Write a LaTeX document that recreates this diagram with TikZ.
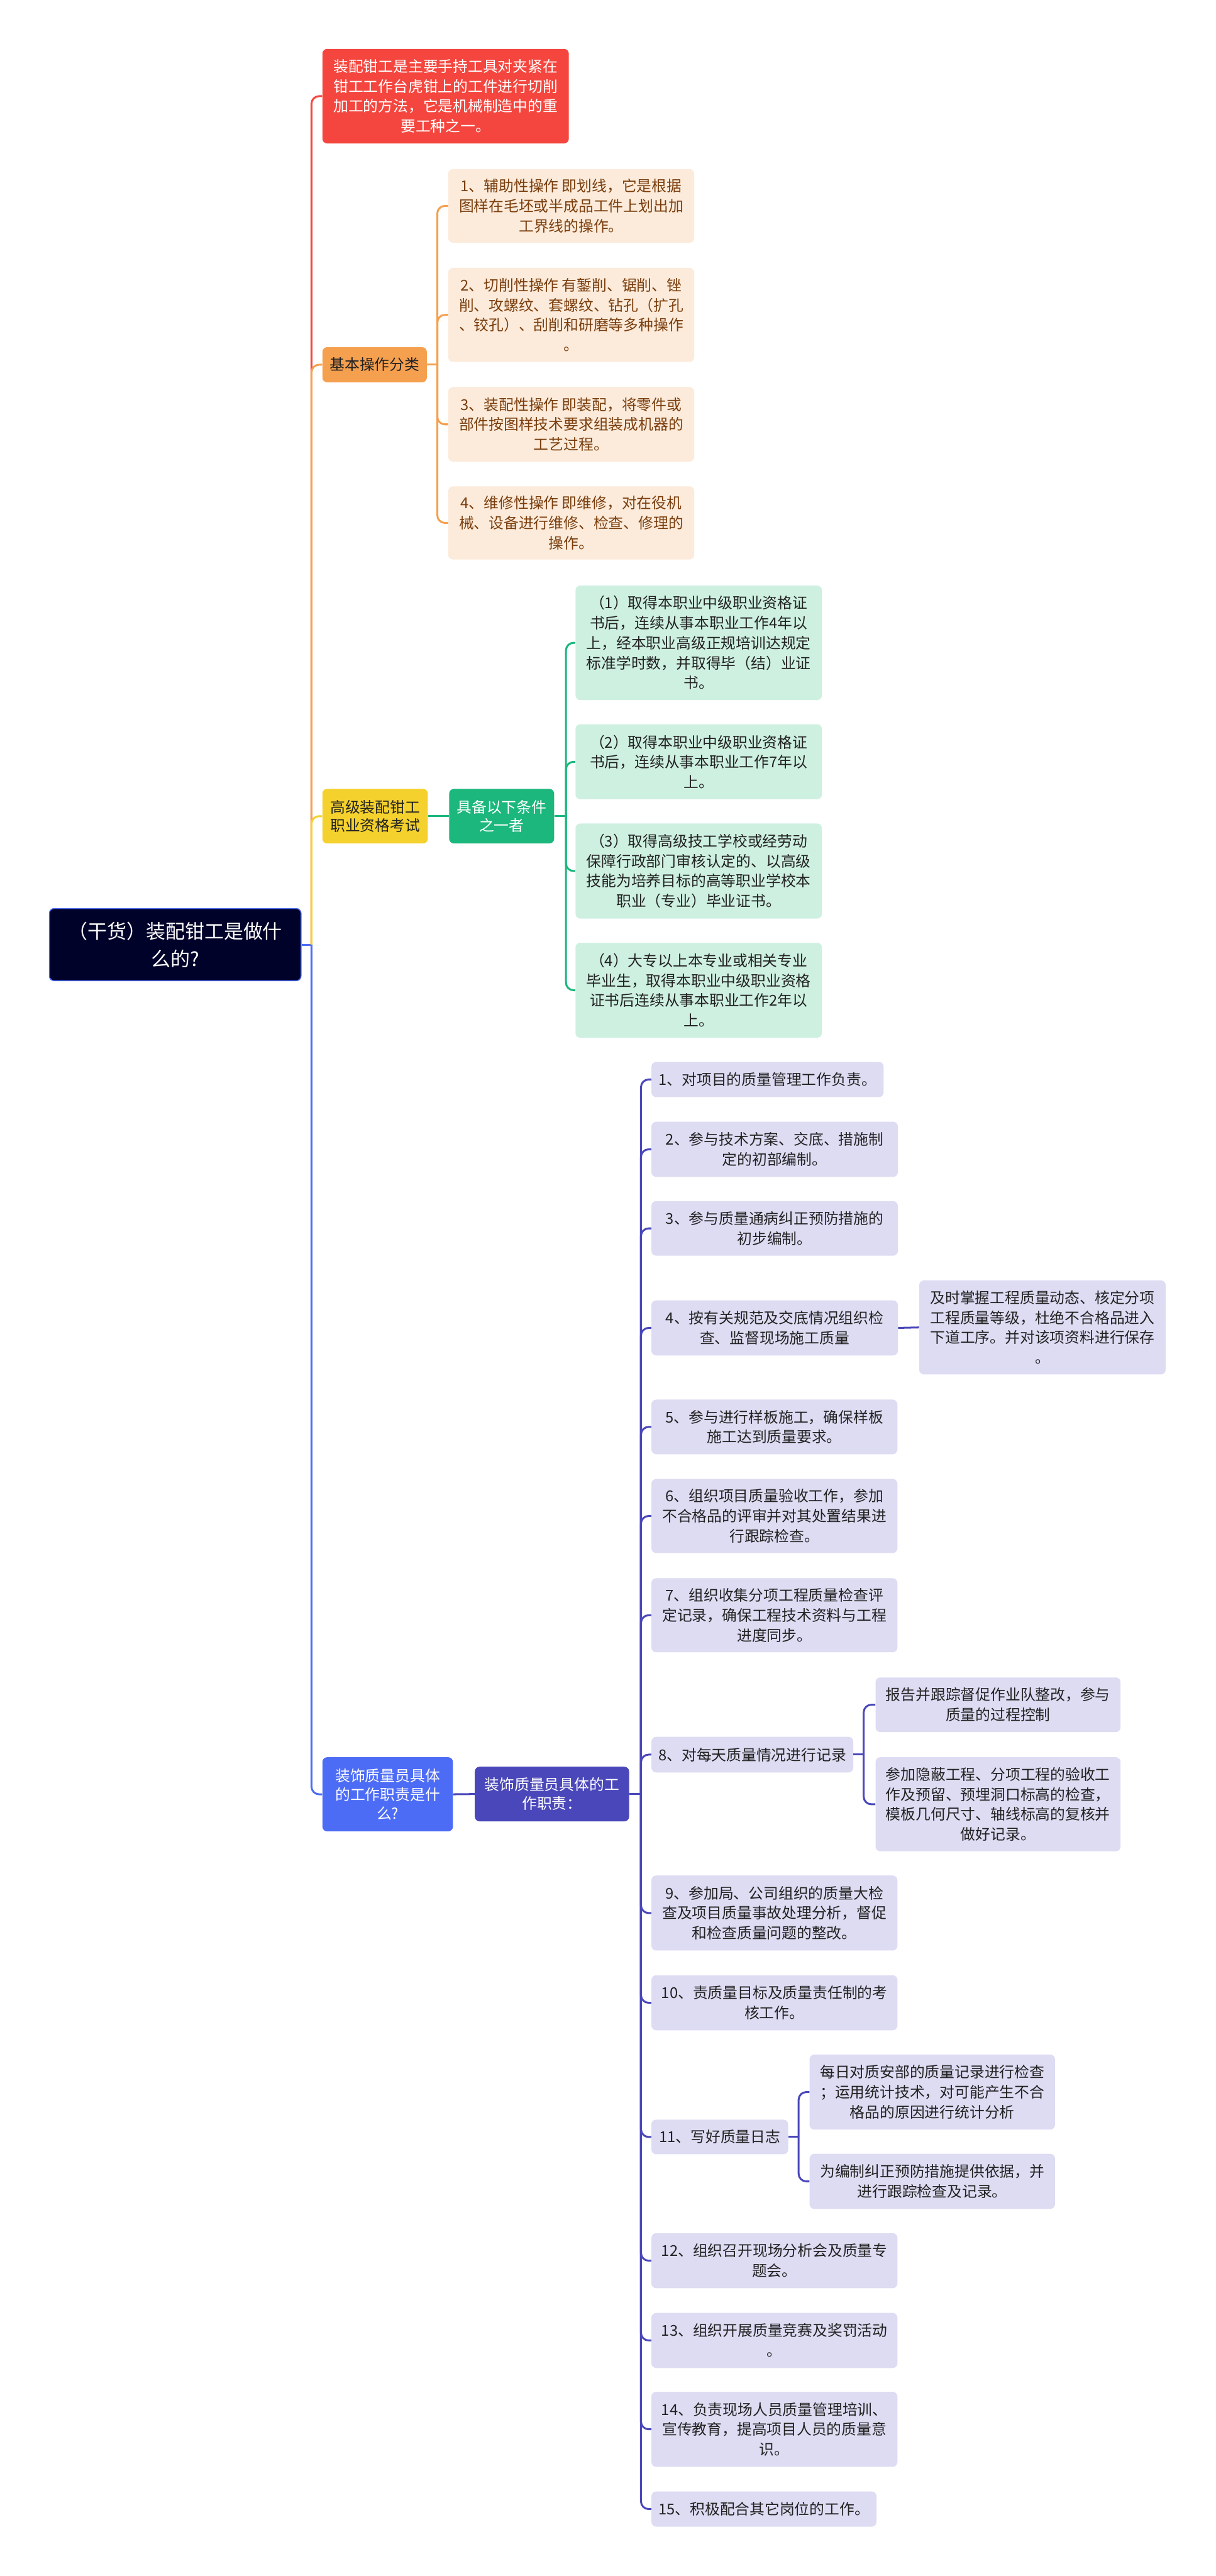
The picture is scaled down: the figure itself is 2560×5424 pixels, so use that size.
\documentclass[tikz,border=0pt]{standalone}
\usepackage{fontspec}
\setmainfont{Noto Sans CJK SC}
\definecolor{cRed}{HTML}{F4463E}
\definecolor{cOrange}{HTML}{F5A04F}
\definecolor{cPeach}{HTML}{FCEBDA}
\definecolor{cPeachTxt}{HTML}{7A3E0E}
\definecolor{cYellow}{HTML}{F4D12C}
\definecolor{cGreen}{HTML}{1BB77D}
\definecolor{cLGreen}{HTML}{CEF0E1}
\definecolor{cBlue}{HTML}{4D6CF5}
\definecolor{cIndigo}{HTML}{4A47BA}
\definecolor{cLav}{HTML}{DDDCF3}
\definecolor{cRoot}{HTML}{00022A}
\definecolor{cDark}{HTML}{222222}
\tikzset{
  bx/.style={rounded corners=5pt, inner sep=0pt, align=center, font=\fontsize{15.75pt}{21pt}\selectfont},
  rootbox/.style={bx, fill=cRoot, draw=cBlue, line width=1pt, text=white, font=\fontsize{20.5pt}{29pt}\selectfont},
  redbox/.style={bx, fill=cRed, text=white},
  orgbox/.style={bx, fill=cOrange, text=cDark},
  peach/.style={bx, fill=cPeach, text=cPeachTxt},
  yelbox/.style={bx, fill=cYellow, text=cDark, font=\fontsize{15.75pt}{19pt}\selectfont},
  grnbox/.style={bx, fill=cGreen, text=white, font=\fontsize{15.75pt}{19pt}\selectfont},
  lgreen/.style={bx, fill=cLGreen, text=cDark},
  bluebox/.style={bx, fill=cBlue, text=white, font=\fontsize{15.75pt}{20pt}\selectfont},
  indbox/.style={bx, fill=cIndigo, text=white, font=\fontsize{15.75pt}{20pt}\selectfont},
  lav/.style={bx, fill=cLav, text=cDark},
  ln/.style={line width=2pt},
  rc/.style={rounded corners=8pt},
}
\newcommand\mybox[7]{\node[#6, minimum width={(#4-#2)*0.5pt}, minimum height={(#5-#3)*0.5pt}] (#1) at ({(#2+#4)/2},{(#3+#5)/2}) {#7};}
\begin{document}
\begin{tikzpicture}[x=0.5pt,y=-0.5pt]
\useasboundingbox[fill=white] (0,0) rectangle (2560,5424);
% nodes
\mybox{root}{104}{1913}{634}{2065}{rootbox}{（干货）装配钳工是做什\\么的?}
\mybox{red}{679}{103}{1198}{302}{redbox}{装配钳工是主要手持工具对夹紧在\\钳工工作台虎钳上的工件进行切削\\加工的方法，它是机械制造中的重\\要工种之一。}
\mybox{basic}{679}{731}{899}{805}{orgbox}{基本操作分类}
\mybox{o1}{944}{356}{1462}{511}{peach}{1、辅助性操作 即划线，它是根据\\图样在毛坯或半成品工件上划出加\\工界线的操作。}
\mybox{o2}{944}{564}{1462}{762}{peach}{2、切削性操作 有錾削、锯削、锉\\削、攻螺纹、套螺纹、钻孔（扩孔\\、铰孔）、刮削和研磨等多种操作\\。}
\mybox{o3}{944}{815}{1462}{972}{peach}{3、装配性操作 即装配，将零件或\\部件按图样技术要求组装成机器的\\工艺过程。}
\mybox{o4}{944}{1024}{1462}{1178}{peach}{4、维修性操作 即维修，对在役机\\械、设备进行维修、检查、修理的\\操作。}
\mybox{adv}{679}{1661}{901}{1776}{yelbox}{高级装配钳工\\职业资格考试}
\mybox{cond}{946}{1661}{1167}{1776}{grnbox}{具备以下条件\\之一者}
\mybox{g1}{1212}{1233}{1731}{1474}{lgreen}{（1）取得本职业中级职业资格证\\书后，连续从事本职业工作4年以\\上，经本职业高级正规培训达规定\\标准学时数，并取得毕（结）业证\\书。}
\mybox{g2}{1212}{1525}{1731}{1683}{lgreen}{（2）取得本职业中级职业资格证\\书后，连续从事本职业工作7年以\\上。}
\mybox{g3}{1212}{1734}{1731}{1934}{lgreen}{（3）取得高级技工学校或经劳动\\保障行政部门审核认定的、以高级\\技能为培养目标的高等职业学校本\\职业（专业）毕业证书。}
\mybox{g4}{1212}{1985}{1731}{2185}{lgreen}{（4）大专以上本专业或相关专业\\毕业生，取得本职业中级职业资格\\证书后连续从事本职业工作2年以\\上。}
\mybox{deco}{679}{3700}{954}{3856}{bluebox}{装饰质量员具体\\的工作职责是什\\么?}
\mybox{duty}{1000}{3720}{1325}{3835}{indbox}{装饰质量员具体的工\\作职责：}
\mybox{t1}{1372}{2236}{1861}{2310}{lav}{1、对项目的质量管理工作负责。}
\mybox{t2}{1372}{2362}{1891}{2478}{lav}{2、参与技术方案、交底、措施制\\定的初部编制。}
\mybox{t3}{1372}{2529}{1891}{2644}{lav}{3、参与质量通病纠正预防措施的\\初步编制。}
\mybox{t4}{1372}{2738}{1891}{2854}{lav}{4、按有关规范及交底情况组织检\\查、监督现场施工质量}
\mybox{t4a}{1936}{2696}{2455}{2894}{lav}{及时掌握工程质量动态、核定分项\\工程质量等级，杜绝不合格品进入\\下道工序。并对该项资料进行保存\\。}
\mybox{t5}{1372}{2947}{1890}{3062}{lav}{5、参与进行样板施工，确保样板\\施工达到质量要求。}
\mybox{t6}{1372}{3114}{1890}{3270}{lav}{6、组织项目质量验收工作，参加\\不合格品的评审并对其处置结果进\\行跟踪检查。}
\mybox{t7}{1372}{3323}{1890}{3479}{lav}{7、组织收集分项工程质量检查评\\定记录，确保工程技术资料与工程\\进度同步。}
\mybox{t8}{1372}{3657}{1797}{3732}{lav}{8、对每天质量情况进行记录}
\mybox{t8a}{1844}{3532}{2360}{3647}{lav}{报告并跟踪督促作业队整改，参与\\质量的过程控制}
\mybox{t8b}{1844}{3700}{2360}{3898}{lav}{参加隐蔽工程、分项工程的验收工\\作及预留、预埋洞口标高的检查，\\模板几何尺寸、轴线标高的复核并\\做好记录。}
\mybox{t9}{1372}{3949}{1890}{4107}{lav}{9、参加局、公司组织的质量大检\\查及项目质量事故处理分析，督促\\和检查质量问题的整改。}
\mybox{t10}{1372}{4159}{1890}{4275}{lav}{10、责质量目标及质量责任制的考\\核工作。}
\mybox{t11}{1372}{4463}{1660}{4536}{lav}{11、写好质量日志}
\mybox{t11a}{1705}{4326}{2222}{4484}{lav}{每日对质安部的质量记录进行检查\\；运用统计技术，对可能产生不合\\格品的原因进行统计分析}
\mybox{t11b}{1705}{4535}{2222}{4651}{lav}{为编制纠正预防措施提供依据，并\\进行跟踪检查及记录。}
\mybox{t12}{1372}{4702}{1890}{4818}{lav}{12、组织召开现场分析会及质量专\\题会。}
\mybox{t13}{1372}{4870}{1890}{4986}{lav}{13、组织开展质量竞赛及奖罚活动\\。}
\mybox{t14}{1372}{5036}{1890}{5194}{lav}{14、负责现场人员质量管理培训、\\宣传教育，提高项目人员的质量意\\识。}
\mybox{t15}{1372}{5246}{1846}{5320}{lav}{15、积极配合其它岗位的工作。}
% junctions
\coordinate (j0) at (656,1989);
\coordinate (j1) at (921,768);
\coordinate (j2) at (1192,1718.5);
\coordinate (j3) at (1350,3777.5);
\coordinate (j4) at (1819,3694.5);
\coordinate (j5) at (1682,4499.5);
% main branches
\draw[ln,cBlue] (root.east) -- (j0);
\draw[ln,cRed,rc] (j0) |- (red.west);
\draw[ln,cOrange,rc] (j0) |- (basic.west);
\draw[ln,cYellow,rc] (j0) |- (adv.west);
\draw[ln,cBlue,rc] (j0) |- (deco.west);
% orange
\draw[ln,cOrange] (basic.east) -- (j1);
\foreach \n in {o1,o2,o3,o4} \draw[ln,cOrange,rc] (j1) |- (\n.west);
% green
\draw[ln,cGreen] (adv.east) -- (cond.west);
\draw[ln,cGreen] (cond.east) -- (j2);
\foreach \n in {g1,g2,g3,g4} \draw[ln,cGreen,rc] (j2) |- (\n.west);
% indigo
\draw[ln,cIndigo] (deco.east) -- (duty.west);
\draw[ln,cIndigo] (duty.east) -- (j3);
\foreach \n in {t1,t2,t3,t4,t5,t6,t7,t8,t9,t10,t11,t12,t13,t14,t15} \draw[ln,cIndigo,rc] (j3) |- (\n.west);
\draw[ln,cIndigo] (t4.east) -- (t4a.west);
\draw[ln,cIndigo] (t8.east) -- (j4);
\foreach \n in {t8a,t8b} \draw[ln,cIndigo,rc] (j4) |- (\n.west);
\draw[ln,cIndigo] (t11.east) -- (j5);
\foreach \n in {t11a,t11b} \draw[ln,cIndigo,rc] (j5) |- (\n.west);
\end{tikzpicture}
\end{document}
